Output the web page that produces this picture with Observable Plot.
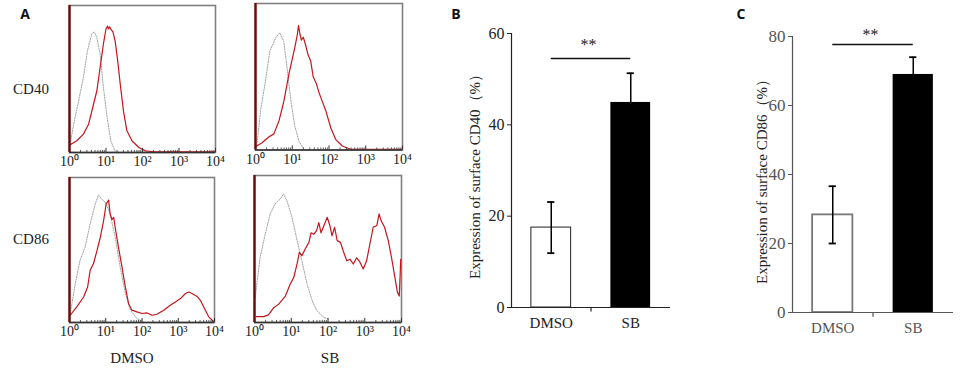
<!DOCTYPE html>
<html>
<head>
<meta charset="utf-8">
<script src="https://cdn.jsdelivr.net/npm/d3@7"></script>
<script src="https://cdn.jsdelivr.net/npm/@observablehq/plot@0.6"></script>
<style>
  html, body { margin: 0; padding: 0; background: #fff; }
  #root { position: relative; width: 968px; height: 374px; overflow: hidden; background: #fff;
          font-family: "Liberation Serif", "Times New Roman", serif; color: #222; }
  .abs { position: absolute; white-space: nowrap; line-height: 1; }
  .letter { font-family: "Open Sans", "Liberation Sans", sans-serif; font-weight: bold; font-size: 14px; color: #111; }
  svg { overflow: visible; }
</style>
</head>
<body>
<div id="root"></div>
<script>
// ---------------- DATA ----------------
// Histogram curves: [log10 fluorescence, relative count (0-100 = frame height)]
const cd40DmsoIso = [[0.02,5.7],[0.11,19],[0.25,35],[0.38,51],[0.49,69],[0.61,80.7],[0.68,82],[0.75,78],[0.84,67],[0.93,44],[1.03,24],[1.13,8],[1.25,0.7]];
const cd40DmsoStain = [[0.02,5.2],[0.2,8],[0.38,12.5],[0.52,19],[0.66,33],[0.75,42],[0.84,58],[0.93,74],[1.0,84],[1.04,86],[1.07,84],[1.1,85.5],[1.13,84],[1.19,82],[1.25,76],[1.32,62.5],[1.39,46.6],[1.48,28],[1.57,15],[1.71,8],[1.9,3.4],[2.08,1.1],[2.3,0.5],[4,0.5]];
const cd40SbIso = [[0.03,1.6],[0.14,27],[0.27,47],[0.39,67.5],[0.55,76.6],[0.66,80],[0.77,74],[0.86,56],[0.95,36],[1.06,17.5],[1.18,6],[1.32,0.5]];
const cd40SbStain = [[0.03,2.7],[0.18,5],[0.36,8.9],[0.5,11],[0.64,20],[0.77,33],[0.91,52],[1.0,62],[1.07,70],[1.14,79],[1.17,85],[1.21,79],[1.25,75],[1.3,77],[1.36,72],[1.43,65],[1.5,61],[1.57,50],[1.66,45],[1.73,39],[1.82,33],[1.91,27],[2.05,15],[2.18,7.3],[2.36,2.7],[2.59,0.5],[4,0.5]];
const cd86DmsoIso = [[0.02,6.2],[0.16,26.8],[0.29,42.8],[0.43,52],[0.57,68],[0.71,81.7],[0.8,88],[0.89,85],[0.99,83],[1.12,75],[1.26,58.8],[1.4,38],[1.54,20],[1.68,8.5],[1.86,2.7],[2.05,0.5]];
const cd86DmsoStain = [[0.02,5],[0.2,10.8],[0.39,17.6],[0.5,24.5],[0.57,36],[0.66,40.5],[0.76,49.7],[0.85,58.8],[0.94,70],[1.01,81.7],[1.08,84.4],[1.12,75],[1.17,71],[1.22,72.5],[1.26,65.7],[1.35,52],[1.45,38],[1.54,24.5],[1.63,13],[1.72,8.5],[1.86,7.3],[2.0,6.2],[2.14,6.6],[2.28,5],[2.41,5.7],[2.6,8.5],[2.78,11.9],[2.92,14.2],[3.06,16.5],[3.2,20],[3.29,21],[3.38,20],[3.52,18],[3.61,15.3],[3.7,10.8],[3.84,3.9],[3.98,0.5]];
const cd86SbIso = [[0.02,17],[0.15,44],[0.29,60],[0.43,74],[0.56,80.7],[0.7,84],[0.79,87.5],[0.88,83],[1.02,71.6],[1.16,55.7],[1.29,42],[1.43,26],[1.57,14.8],[1.7,8],[1.89,3.4],[2.02,2.3]];
const cd86SbStain = [[0.05,4],[0.25,4],[0.38,5.2],[0.52,10],[0.66,12.5],[0.84,18],[0.97,26],[1.07,30.7],[1.16,40],[1.22,47.7],[1.29,45.5],[1.38,50],[1.48,54.5],[1.54,61],[1.61,60],[1.69,62.5],[1.75,68],[1.81,61],[1.89,66],[1.98,71.6],[2.05,66],[2.11,59],[2.18,64.8],[2.25,55.7],[2.34,54.5],[2.41,49],[2.51,42],[2.6,43],[2.69,39.8],[2.78,44],[2.87,41],[2.96,36.4],[3.05,42],[3.14,53.4],[3.23,64.8],[3.33,66],[3.39,73.9],[3.45,69],[3.54,64.8],[3.64,55.7],[3.73,44],[3.82,30.7],[3.89,20.5],[3.94,18],[3.98,43]];

// Histogram axis ticks
const decadeTicks = [1, 10, 100, 1000, 10000];
const decadeLabels = ["10⁰", "10¹", "10²", "10³", "10⁴"];
const minorTicks = [2,3,4,5,6,7,8,9,20,30,40,50,60,70,80,90,200,300,400,500,600,700,800,900,2000,3000,4000,5000,6000,7000,8000,9000];

// Bar charts
const groups = ["DMSO", "SB"];
const cd40Means = [17.5, 44.9];
const cd40Errors = [5.6, 6.4];
const cd86Means = [28.3, 69.0];
const cd86Errors = [8.3, 5.0];
const cd40Ticks = [0, 20, 40, 60];
const cd86Ticks = [0, 20, 40, 60, 80];
const cd40Sig = {level: 54.5, star: 57.6, text: "**"};
const cd86Sig = {level: 77.7, star: 80.6, text: "**"};

// ---------------- DRAW ----------------
const root = document.getElementById("root");
const serif = "'Liberation Serif', 'Times New Roman', serif";

function place(node, left, top) {
  node.style.position = "absolute";
  node.style.left = left + "px";
  node.style.top = top + "px";
  root.appendChild(node);
}

function label(text, cx, cy, opts = {}) {
  const d = document.createElement("div");
  d.className = "abs " + (opts.cls || "");
  d.textContent = text;
  d.style.left = cx + "px";
  d.style.top = cy + "px";
  if (opts.size) d.style.fontSize = opts.size + "px";
  if (opts.color) d.style.color = opts.color;
  d.style.transform = "translate(-50%,-50%)" + (opts.rotate ? " rotate(" + opts.rotate + "deg)" : "");
  root.appendChild(d);
}

function histogram(frame, iso, stain) {
  const ml = 20, mr = 15, mt = 6, mb = 26;
  const w = frame.x1 - frame.x0, h = frame.y1 - frame.y0;
  const pt = d => ({x: 10 ** d[0], y: d[1]});
  const svg = Plot.plot({
    width: w + ml + mr, height: h + mt + mb,
    marginLeft: ml, marginRight: mr, marginTop: mt, marginBottom: mb,
    x: {type: "log", domain: [1, 1e4], axis: null},
    y: {domain: [0, 100], axis: null},
    style: {fontFamily: serif, fontSize: "14px", color: "#222", background: "transparent", overflow: "visible"},
    marks: [
      Plot.frame({stroke: "#808080", strokeWidth: 1.6}),
      Plot.line(iso.map(pt), {x: "x", y: "y", stroke: "#a0a0a0", strokeWidth: 1, strokeDasharray: "1.2,1.4"}),
      Plot.line(stain.map(pt), {x: "x", y: "y", stroke: "#c3161c", strokeWidth: 1.2}),
      Plot.ruleY([0], {stroke: "#333", strokeWidth: 1.3}),
      Plot.ruleX(minorTicks, {y1: 0, y2: 1.4, stroke: "#333", strokeWidth: 0.8}),
      Plot.ruleX(decadeTicks, {y1: 0, y2: 2.8, stroke: "#333", strokeWidth: 1}),
      Plot.ruleX([1], {stroke: "#6e0a0a", strokeWidth: 2.4}),
      Plot.axisX({ticks: decadeTicks, tickSize: 0, tickPadding: 4, fontSize: 14, label: null,
                  tickFormat: d => decadeLabels[decadeTicks.indexOf(d)]})
    ]
  });
  place(svg, frame.x0 - ml, frame.y0 - mt);
}

histogram({x0: 69, x1: 215, y0: 5, y1: 152}, cd40DmsoIso, cd40DmsoStain);
histogram({x0: 255, x1: 402, y0: 2.5, y1: 149}, cd40SbIso, cd40SbStain);
histogram({x0: 69, x1: 214, y0: 177, y1: 322}, cd86DmsoIso, cd86DmsoStain);
histogram({x0: 254, x1: 401, y0: 175, y1: 322}, cd86SbIso, cd86SbStain);

function barChart(cfg) {
  const rows = groups.map((g, i) => ({g, pos: i + 1, mean: cfg.means[i], err: cfg.errors[i]}));
  const dmso = rows.filter(d => d.g === "DMSO");
  const sb = rows.filter(d => d.g === "SB");
  const yMax = cfg.ticks[cfg.ticks.length - 1];
  const svg = Plot.plot({
    width: cfg.width, height: cfg.height,
    marginLeft: cfg.ml, marginRight: cfg.mr, marginTop: cfg.mt, marginBottom: cfg.mb,
    x: {type: "linear", domain: [0.5, 2.5], axis: null},
    y: {domain: [0, yMax], axis: null},
    style: {fontFamily: serif, fontSize: cfg.tickFont + "px", color: cfg.axisColor, background: "transparent", overflow: "visible"},
    marks: [
      Plot.rectY(dmso, {x1: d => d.pos - 0.25, x2: d => d.pos + 0.25, y1: 0, y2: "mean",
                        fill: "white", stroke: cfg.dmsoStroke, strokeWidth: cfg.dmsoStrokeWidth}),
      Plot.rectY(sb, {x1: d => d.pos - 0.25, x2: d => d.pos + 0.25, y1: 0, y2: "mean", fill: "black"}),
      Plot.ruleX(rows, {x: "pos", y1: d => d.mean - d.err, y2: d => d.mean + d.err, stroke: "black", strokeWidth: 1.5}),
      Plot.ruleY(rows, {y: d => d.mean + d.err, x1: d => d.pos - 0.045, x2: d => d.pos + 0.045, stroke: "black", strokeWidth: 1.8}),
      Plot.ruleY(rows, {y: d => d.mean - d.err, x1: d => d.pos - 0.045, x2: d => d.pos + 0.045, stroke: "black", strokeWidth: 1.8}),
      Plot.ruleY([0], {stroke: cfg.axisColor, strokeWidth: 1.2}),
      Plot.ruleX([0.5], {stroke: cfg.axisColor, strokeWidth: 1.2}),
      Plot.ruleX([1.5], {y1: 0, y2: -cfg.midTick, stroke: cfg.axisColor, strokeWidth: 1.2}),
      Plot.axisY({ticks: cfg.ticks, tickSize: 4, tickPadding: 3, fontSize: cfg.tickFont, stroke: cfg.axisColor, label: null}),
      Plot.axisX({ticks: [1, 2], tickSize: 0, tickPadding: cfg.catPad, fontSize: 15, label: null, tickFormat: i => groups[i - 1]}),
      Plot.ruleY([cfg.sig.level], {x1: 1, x2: 2, stroke: "#111", strokeWidth: 1.5}),
      Plot.text([cfg.sig], {x: 1.47, y: "star", text: "text", fontSize: 16, fill: "#222"})
    ]
  });
  place(svg, cfg.left, cfg.top);
}

barChart({left: 440, top: 0, width: 240, height: 374, ml: 71, mr: 10, mt: 33, mb: 67,
          means: cd40Means, errors: cd40Errors, ticks: cd40Ticks, sig: cd40Sig,
          axisColor: "#222", dmsoStroke: "#222", dmsoStrokeWidth: 1, tickFont: 16, catPad: 10, midTick: 1});
barChart({left: 730, top: 0, width: 238, height: 374, ml: 62, mr: 15, mt: 36, mb: 62,
          means: cd86Means, errors: cd86Errors, ticks: cd86Ticks, sig: cd86Sig,
          axisColor: "#555", dmsoStroke: "#777", dmsoStrokeWidth: 1.8, tickFont: 17, catPad: 10, midTick: 1.4});

// Text labels
label("A", 25, 14, {cls: "letter"});
label("B", 456, 14, {cls: "letter"});
label("C", 741, 14, {cls: "letter"});
label("CD40", 31, 89, {size: 15});
label("CD86", 31, 239, {size: 15});
label("DMSO", 132, 358, {size: 15});
label("SB", 330, 358, {size: 15});
label("Expression of surface CD40（%）", 475, 173, {size: 15, rotate: -90});
label("Expression of surface CD86（%）", 762, 178, {size: 15, rotate: -90});
</script>
</body>
</html>
